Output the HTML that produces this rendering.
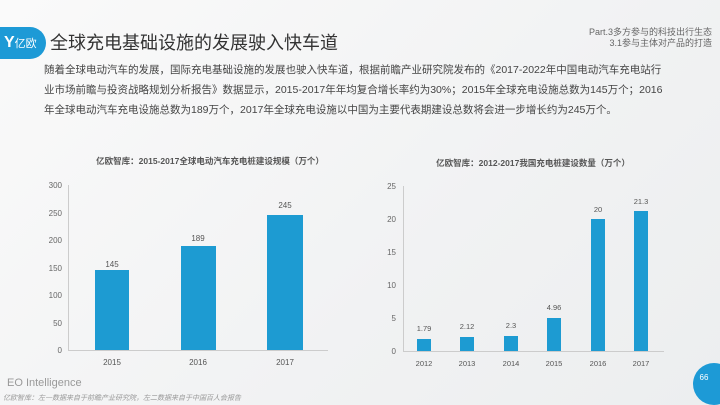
<!DOCTYPE html>
<html><head><meta charset="utf-8"><style>
html,body{margin:0;padding:0}
body{width:720px;height:405px;overflow:hidden;position:relative;background:linear-gradient(135deg,#fafafa,#f1f2f3 60%,#eceeef);font-family:"Liberation Sans","Noto Sans CJK SC",sans-serif;color:#444}
.a{position:absolute;white-space:nowrap}
</style></head><body>
<div class="a" style="left:0;top:27px;width:46px;height:32px;background:#1d9ad6;border-radius:0 16px 16px 0;color:#fff;font-size:11px;line-height:32px;text-indent:4px"><b style="font-size:16px">Y</b>亿欧</div>
<div class="a" style="left:50px;top:28px;font-size:18px;color:#333;line-height:30px">全球充电基础设施的发展驶入快车道</div>
<div class="a" style="right:8px;top:27px;font-size:9px;color:#666;text-align:right;line-height:11px">Part.3多方参与的科技出行生态<br>3.1参与主体对产品的打造</div>
<div class="a" style="left:44px;top:60px;font-size:10.5px;color:#444;line-height:20px">随着全球电动汽车的发展，国际充电基础设施的发展也驶入快车道，根据前瞻产业研究院发布的《2017-2022年中国电动汽车充电站行<br>业市场前瞻与投资战略规划分析报告》数据显示，2015-2017年年均复合增长率约为30%；2015年全球充电设施总数为145万个；2016<br>年全球电动汽车充电设施总数为189万个，2017年全球充电设施以中国为主要代表期建设总数将会进一步增长约为245万个。</div>
<svg class="a" style="left:0;top:0" width="720" height="405" font-family="Liberation Sans, Noto Sans CJK SC, sans-serif">
<text x="210" y="164" font-size="8.5" font-weight="bold" fill="#555" text-anchor="middle">亿欧智库：2015-2017全球电动汽车充电桩建设规模（万个）</text>
<text x="533" y="166" font-size="8.5" font-weight="bold" fill="#555" text-anchor="middle">亿欧智库：2012-2017我国充电桩建设数量（万个）</text>
<g font-size="8" fill="#666" text-anchor="end">
<text x="62" y="188">300</text><text x="62" y="216">250</text><text x="62" y="243">200</text><text x="62" y="271">150</text><text x="62" y="298">100</text><text x="62" y="326">50</text><text x="62" y="353">0</text>
</g>
<line x1="68.5" y1="185" x2="68.5" y2="350" stroke="#ccc"/>
<line x1="68" y1="350.5" x2="328" y2="350.5" stroke="#ccc"/>
<g fill="#1d9bd2">
<rect x="95" y="270" width="34" height="80"/>
<rect x="181" y="246" width="35" height="104"/>
<rect x="267" y="215" width="36" height="135"/>
</g>
<g font-size="8" fill="#555" text-anchor="middle">
<text x="112" y="267">145</text><text x="198" y="241">189</text><text x="285" y="208">245</text>
<text x="112" y="365">2015</text><text x="198" y="365">2016</text><text x="285" y="365">2017</text>
</g>
<g font-size="8" fill="#666" text-anchor="end">
<text x="396" y="189">25</text><text x="396" y="222">20</text><text x="396" y="255">15</text><text x="396" y="288">10</text><text x="396" y="321">5</text><text x="396" y="354">0</text>
</g>
<line x1="403.5" y1="186" x2="403.5" y2="351" stroke="#ccc"/>
<line x1="403" y1="351.5" x2="664" y2="351.5" stroke="#ccc"/>
<g fill="#1d9bd2">
<rect x="417" y="339" width="14" height="12"/>
<rect x="460" y="337" width="14" height="14"/>
<rect x="504" y="336" width="14" height="15"/>
<rect x="547" y="318" width="14" height="33"/>
<rect x="591" y="219" width="14" height="132"/>
<rect x="634" y="211" width="14" height="140"/>
</g>
<g font-size="7.5" fill="#555" text-anchor="middle">
<text x="424" y="331">1.79</text><text x="467" y="329">2.12</text><text x="511" y="328">2.3</text><text x="554" y="310">4.96</text><text x="598" y="212">20</text><text x="641" y="204">21.3</text>
<text x="424" y="366">2012</text><text x="467" y="366">2013</text><text x="511" y="366">2014</text><text x="554" y="366">2015</text><text x="598" y="366">2016</text><text x="641" y="366">2017</text>
</g>
<text x="7" y="386" font-size="11" fill="#999">EO Intelligence</text>
<text x="3" y="400" font-size="7" fill="#999" font-style="italic">亿欧智库：左一数据来自于前瞻产业研究院，左二数据来自于中国百人会报告</text>
<circle cx="714" cy="384" r="21" fill="#1d9ad6"/>
<text x="704" y="380" font-size="8" fill="#fff" text-anchor="middle">66</text>
</svg>
</body></html>
